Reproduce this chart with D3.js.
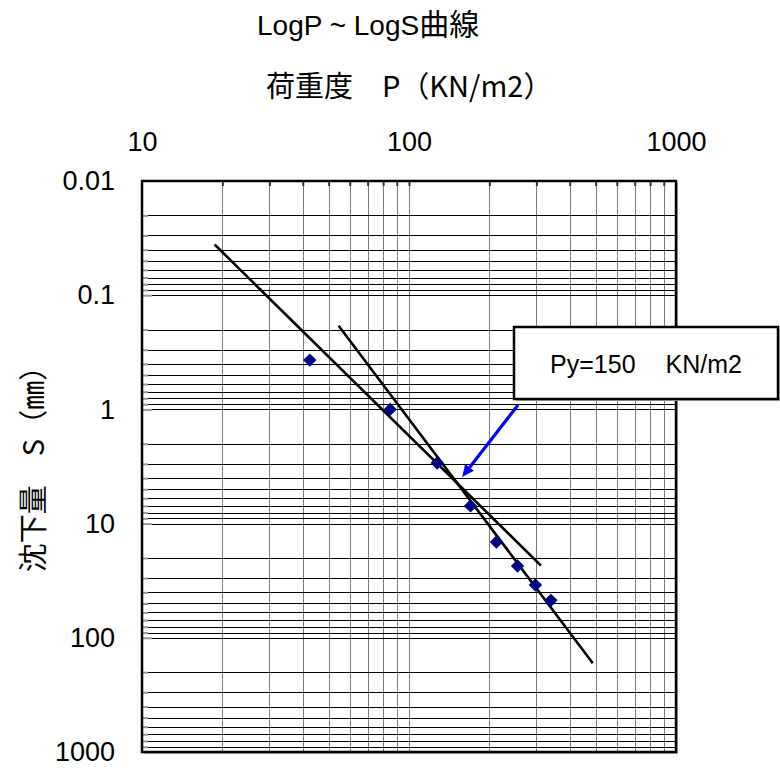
<!DOCTYPE html>
<html>
<head>
<meta charset="utf-8">
<script src="https://cdn.jsdelivr.net/npm/d3@7"></script>
<style>
  html, body { margin: 0; padding: 0; background: #fff; }
  svg { display: block; }
</style>
</head>
<body>
<svg id="chart" width="780" height="771"></svg>
<script>
// Plate-load test: load P (kN/m2) against settlement S (mm), both axes logarithmic
const loads = [42.5, 85, 127.5, 170, 212.5, 255, 297.5, 340];
const settlements = [0.37, 1.0, 2.95, 7.0, 14.5, 23.5, 34.5, 47];

// Straight fits on the log-log plot, given by their end points
const earlyFitLoads = [18.7, 312];
const earlyFitSettlements = [0.036, 23.3];
const lateFitLoads = [54.5, 488];
const lateFitSettlements = [0.185, 167];

// Yield load read at the intersection of the two fits
const yieldLoad = 150;

const xTickValues = [10, 100, 1000];
const xTickLabels = ["10", "100", "1000"];
const yTickValues = [0.01, 0.1, 1, 10, 100, 1000];
const yTickLabels = ["0.01", "0.1", "1", "10", "100", "1000"];

const titleLatin = "LogP ~ LogS";
const titleCjk = "曲線";
const xTitle = "荷重度　P（KN/m2）";
const yTitle = "沈下量　S（㎜）";
const calloutLoad = "Py=" + yieldLoad;
const calloutUnit = "KN/m2";

const latinFont = "'Liberation Sans', Arial, 'Noto Sans CJK JP', sans-serif";
const cjkFont = "'Noto Sans CJK JP', 'Noto Sans CJK TC', sans-serif";

const svg = d3.select("#chart");
const plot = { left: 142, right: 676, top: 181, bottom: 752 };

const x = d3.scaleLog().domain([10, 1000]).range([plot.left, plot.right]);
const y = d3.scaleLog().domain([0.01, 1000]).range([plot.top, plot.bottom]);

// Frame shadow and plot background
svg.append("rect")
  .attr("x", plot.left + 2).attr("y", plot.top + 2)
  .attr("width", plot.right - plot.left).attr("height", plot.bottom - plot.top)
  .attr("fill", "#b0b0b0");
svg.append("rect")
  .attr("x", plot.left).attr("y", plot.top)
  .attr("width", plot.right - plot.left).attr("height", plot.bottom - plot.top)
  .attr("fill", "#fff");

// Grid: vertical lines grey, horizontal lines black
const px = v => Math.round(v) + 0.5;
const xGrid = x.ticks().filter(v => v > 10 && v < 1000);
const yGrid = y.ticks().filter(v => v > 0.01 * 1.0001 && v < 1000 * 0.9999);

svg.append("g").selectAll("line").data(xGrid).join("line")
  .attr("x1", d => px(x(d))).attr("x2", d => px(x(d)))
  .attr("y1", plot.top).attr("y2", plot.bottom)
  .attr("stroke", "#7a7a7a").attr("stroke-width", 1);

svg.append("g").selectAll("line").data(yGrid).join("line")
  .attr("x1", plot.left).attr("x2", plot.right)
  .attr("y1", d => px(y(d))).attr("y2", d => px(y(d)))
  .attr("stroke", "#000").attr("stroke-width", 1);

// Minor ticks along the top edge (inside)
svg.append("g")
  .attr("transform", `translate(0,${plot.top})`)
  .call(d3.axisTop(x).tickValues(xGrid).tickSize(-5).tickFormat(""))
  .call(g => g.select(".domain").remove())
  .call(g => g.selectAll("line").attr("stroke", "#333").attr("stroke-width", 2));

// Minor and major ticks along the left edge (inside)
const yMajor = yTickValues.slice(1, -1);
svg.append("g")
  .attr("transform", `translate(${plot.left},0)`)
  .call(d3.axisLeft(y).tickValues(yGrid.filter(v => !yMajor.includes(v))).tickSize(-6).tickFormat(""))
  .call(g => g.select(".domain").remove())
  .call(g => g.selectAll("line").attr("stroke", "#999").attr("stroke-width", 2));
svg.append("g")
  .attr("transform", `translate(${plot.left},0)`)
  .call(d3.axisLeft(y).tickValues(yMajor).tickSize(-10).tickFormat(""))
  .call(g => g.select(".domain").remove())
  .call(g => g.selectAll("line").attr("stroke", "#999").attr("stroke-width", 2));

// Axis labels
svg.append("g")
  .attr("transform", `translate(0,${plot.top})`)
  .call(d3.axisTop(x).tickValues(xTickValues).tickSize(0).tickPadding(30)
    .tickFormat((d, i) => xTickLabels[i]))
  .call(g => g.select(".domain").remove())
  .call(g => g.selectAll("text").attr("font-family", latinFont).attr("font-size", 27).attr("fill", "#000"));

svg.append("g")
  .attr("transform", `translate(${plot.left},0)`)
  .call(d3.axisLeft(y).tickValues(yTickValues).tickSize(0).tickPadding(27)
    .tickFormat((d, i) => yTickLabels[i]))
  .call(g => g.select(".domain").remove())
  .call(g => g.selectAll("text").attr("font-family", latinFont).attr("font-size", 27).attr("fill", "#000"));

// Frame
svg.append("rect")
  .attr("x", plot.left).attr("y", plot.top)
  .attr("width", plot.right - plot.left).attr("height", plot.bottom - plot.top)
  .attr("fill", "none").attr("stroke", "#000").attr("stroke-width", 2.5);

// Fitted lines
const fits = [
  earlyFitLoads.map((p, i) => [p, earlyFitSettlements[i]]),
  lateFitLoads.map((p, i) => [p, lateFitSettlements[i]])
];
const line = d3.line().x(d => x(d[0])).y(d => y(d[1]));
svg.append("g").selectAll("path").data(fits).join("path")
  .attr("d", line)
  .attr("fill", "none").attr("stroke", "#000").attr("stroke-width", 2.6);

// Measured points (navy diamonds)
const diamond = d3.symbol().type(d3.symbolSquare).size(90);
svg.append("g").selectAll("path").data(loads.map((p, i) => [p, settlements[i]])).join("path")
  .attr("d", diamond)
  .attr("transform", d => `translate(${x(d[0])},${y(d[1])}) rotate(45)`)
  .attr("fill", "#000080");

// Intersection of the two fits (in log space)
function fitInLog(ps, ss) {
  const lp = ps.map(Math.log10), ls = ss.map(Math.log10);
  const m = (ls[1] - ls[0]) / (lp[1] - lp[0]);
  return { m, b: ls[0] - m * lp[0] };
}
const f1 = fitInLog(earlyFitLoads, earlyFitSettlements);
const f2 = fitInLog(lateFitLoads, lateFitSettlements);
const Lx = (f2.b - f1.b) / (f1.m - f2.m);
const cross = [x(Math.pow(10, Lx)), y(Math.pow(10, f1.m * Lx + f1.b))];

// Callout box
const box = { x: 514, y: 327, w: 264, h: 72 };
svg.append("rect")
  .attr("x", box.x + 2).attr("y", box.y + 2).attr("width", box.w).attr("height", box.h)
  .attr("fill", "#b0b0b0");
svg.append("rect")
  .attr("x", box.x).attr("y", box.y).attr("width", box.w).attr("height", box.h)
  .attr("fill", "#fff").attr("stroke", "#000").attr("stroke-width", 2.5);
const callout = svg.append("text")
  .attr("x", box.x + box.w / 2).attr("y", box.y + 46)
  .attr("text-anchor", "middle")
  .attr("font-family", latinFont).attr("font-size", 25).attr("fill", "#000");
callout.append("tspan").text(calloutLoad);
callout.append("tspan").attr("dx", 30).text(calloutUnit);

// Arrow from the callout to the intersection
const start = [518, 405];
const dx = cross[0] - start[0], dy = cross[1] - start[1];
const len = Math.hypot(dx, dy);
const ux = dx / len, uy = dy / len;
const tip = [cross[0] - ux * 8, cross[1] - uy * 8];
const headLen = 12, headHalf = 5.5;
const base = [tip[0] - ux * headLen, tip[1] - uy * headLen];
svg.append("line")
  .attr("x1", start[0]).attr("y1", start[1])
  .attr("x2", base[0]).attr("y2", base[1])
  .attr("stroke", "#0000ff").attr("stroke-width", 3.2);
svg.append("path")
  .attr("d", d3.line()([
    tip,
    [base[0] - uy * headHalf, base[1] + ux * headHalf],
    [base[0] + uy * headHalf, base[1] - ux * headHalf]
  ]) + "Z")
  .attr("fill", "#0000ff");

// Titles
const title = svg.append("text")
  .attr("x", 257).attr("y", 35)
  .attr("font-family", latinFont).attr("font-size", 28).attr("fill", "#000");
title.append("tspan").text(titleLatin);
title.append("tspan").attr("font-family", cjkFont).attr("font-size", 30).text(titleCjk);

svg.append("text")
  .attr("x", 266).attr("y", 97)
  .attr("font-family", cjkFont).attr("font-size", 29).attr("fill", "#000")
  .text(xTitle);

svg.append("text")
  .attr("transform", "translate(44,462) rotate(-90)")
  .attr("text-anchor", "middle")
  .attr("font-family", cjkFont).attr("font-size", 29).attr("fill", "#000")
  .text(yTitle);
</script>
</body>
</html>
